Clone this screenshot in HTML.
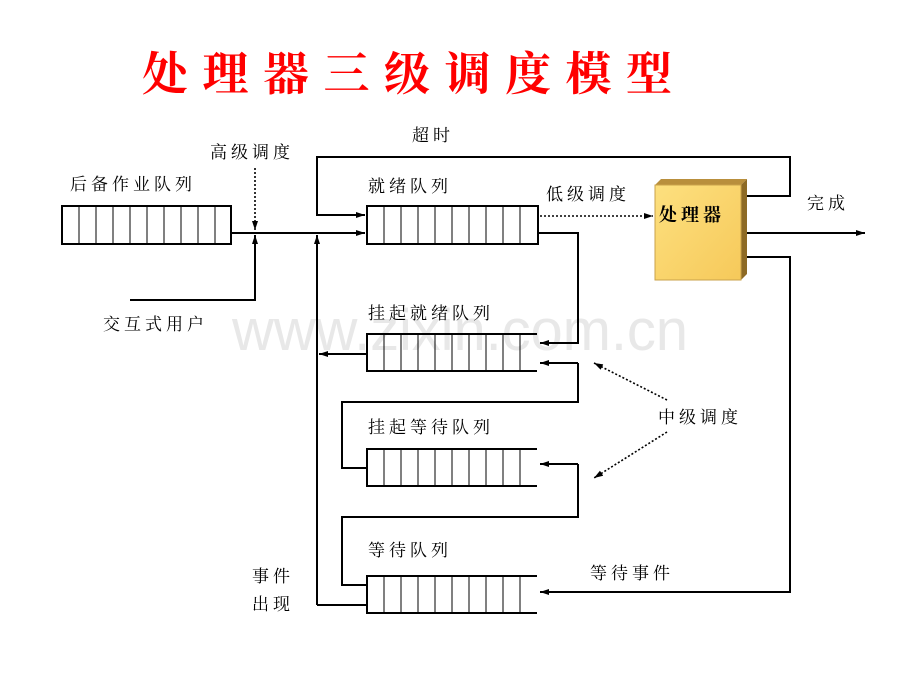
<!DOCTYPE html>
<html><head><meta charset="utf-8"><style>
html,body{margin:0;padding:0;background:#fff;width:920px;height:690px;overflow:hidden}
svg{display:block}
text{font-family:"Liberation Serif","Noto Serif CJK SC","WenQuanYi Zen Hei",serif;fill:#000}
</style></head><body>
<svg width="920" height="690" viewBox="0 0 920 690" xmlns="http://www.w3.org/2000/svg">
<defs>
<marker id="a" markerWidth="10" markerHeight="8" refX="9" refY="4" orient="auto" markerUnits="userSpaceOnUse"><path d="M0,1 L9,4 L0,7 Z" fill="#000"/></marker>
<marker id="b" markerWidth="10" markerHeight="8" refX="9" refY="4" orient="auto" markerUnits="userSpaceOnUse"><path d="M0,1 L9,4 L0,7 Z" fill="#000"/></marker>
<linearGradient id="g" x1="0" y1="0" x2="1" y2="1"><stop offset="0" stop-color="#fde07f"/><stop offset="1" stop-color="#f6c95a"/></linearGradient>
</defs>
<text x="142" y="90" font-size="46" font-weight="bold" letter-spacing="14.5" style="fill:#f00;font-family:'Noto Serif CJK SC','WenQuanYi Zen Hei',serif">处理器三级调度模型</text>
<text x="232" y="350" font-size="58" textLength="456" style="fill:#e8e8e8;font-family:'Liberation Sans',sans-serif">www.zixin.com.cn</text>

<g stroke="#000" stroke-width="2" fill="none">
<rect x="62" y="206" width="169" height="38"/>
<rect x="367" y="206" width="171" height="38"/>
<path d="M537,334 H367 V371 H537"/>
<path d="M537,449 H367 V486 H537"/>
<path d="M537,576 H367 V613 H537"/>
</g>
<g stroke="#000" stroke-width="1">
<path d="M79,206V244M96,206V244M113,206V244M130,206V244M147,206V244M164,206V244M181,206V244M198,206V244M215,206V244"/>
<path d="M384,206V244M401,206V244M418,206V244M435,206V244M452,206V244M469,206V244M486,206V244M503,206V244M520,206V244"/>
<path d="M384,334V371M401,334V371M418,334V371M435,334V371M452,334V371M469,334V371M486,334V371M503,334V371M520,334V371"/>
<path d="M384,449V486M401,449V486M418,449V486M435,449V486M452,449V486M469,449V486M486,449V486M503,449V486M520,449V486"/>
<path d="M384,576V613M401,576V613M418,576V613M435,576V613M452,576V613M469,576V613M486,576V613M503,576V613M520,576V613"/>
</g>
<g stroke="#000" stroke-width="2" fill="none">
<path d="M231,233H365" marker-end="url(#a)"/>
<path d="M130,300H255V235" marker-end="url(#a)"/>
<path d="M747,196H790V157H317V215H365" marker-end="url(#a)"/>
<path d="M317,605V235" marker-end="url(#a)"/>
<path d="M538,233H578V343H540" marker-end="url(#a)"/>
<path d="M367,354H319" marker-end="url(#a)"/>
<path d="M578,363H540" marker-end="url(#a)"/>
<path d="M578,363V402H342V468H367"/>
<path d="M578,464H540" marker-end="url(#a)"/>
<path d="M578,464V517H342V585H367"/>
<path d="M317,605H367"/>
<path d="M747,257H790V592H540" marker-end="url(#a)"/>
<path d="M747,233H865" marker-end="url(#a)"/>
</g>
<g stroke="#000" stroke-width="1.6" fill="none" stroke-dasharray="2,2">
<path d="M255,168V230" marker-end="url(#b)"/>
<path d="M540,216H653" marker-end="url(#b)"/>
<path d="M667,400L594,363" marker-end="url(#b)"/>
<path d="M667,432L594,478" marker-end="url(#b)"/>
</g>
<polygon points="655,185 661,179 747,179 741,185" fill="#b98f3c"/>
<polygon points="741,185 747,179 747,274 741,280" fill="#8d6a25"/>
<rect x="655" y="185" width="86" height="95" fill="url(#g)" stroke="#c9a24a" stroke-width="1"/>
<text x="659" y="221" font-size="18" font-weight="bold" letter-spacing="4">处理器</text>

<g font-size="17" letter-spacing="4">
<text x="70" y="190">后备作业队列</text>
<text x="210" y="158">高级调度</text>
<text x="412" y="141">超时</text>
<text x="368" y="192">就绪队列</text>
<text x="546" y="200">低级调度</text>
<text x="807" y="209">完成</text>
<text x="103" y="330">交互式用户</text>
<text x="368" y="319">挂起就绪队列</text>
<text x="368" y="433">挂起等待队列</text>
<text x="658" y="423">中级调度</text>
<text x="368" y="556">等待队列</text>
<text x="590" y="579">等待事件</text>
<text x="252" y="582">事件</text>
<text x="252" y="610">出现</text>
</g>
</svg>
</body></html>
